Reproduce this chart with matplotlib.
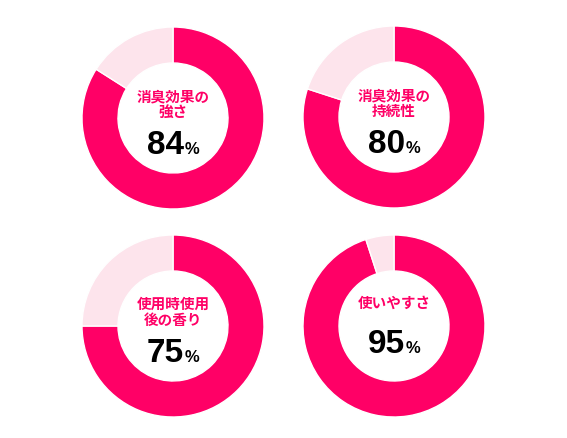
import matplotlib
matplotlib.use('Agg')
import matplotlib.pyplot as plt

labels = ['消臭効果の\n強さ', '消臭効果の\n持続性', '使用時使用\n後の香り', '使いやすさ']
values = [84, 80, 75, 95]

W, H = 567, 439
centers = [(173, 119), (394, 118), (173, 327), (394, 327)]
pink = '#ff0066'
light = '#fde4ec'

fig = plt.figure(figsize=(W / 100, H / 100), dpi=100)
ax = fig.add_axes([0, 0, 1, 1])
ax.set_xlim(0, W)
ax.set_ylim(0, H)
ax.set_aspect('equal')
ax.axis('off')

jp = ['Noto Sans CJK JP', 'DejaVu Sans']
for (cx, cy), lab, v in zip(centers, labels, values):
    y = H - cy
    ax.pie([v, 100 - v], colors=[pink, light], startangle=90, counterclock=False,
           center=(cx, y), radius=91, frame=True,
           wedgeprops=dict(width=36, edgecolor='white', linewidth=1))
    lines = lab.split('\n')
    if len(lines) == 2:
        ax.text(cx, y + 23, lines[0], ha='center', va='center', color=pink,
                fontsize=10.5, fontweight='bold', family=jp)
        ax.text(cx, y + 7.5, lines[1], ha='center', va='center', color=pink,
                fontsize=10.5, fontweight='bold', family=jp)
        ny = y - 35
    else:
        ax.text(cx, y + 24, lines[0], ha='center', va='center', color=pink,
                fontsize=10.5, fontweight='bold', family=jp)
        ny = y - 26
    ax.text(cx + 11, ny, str(v), ha='right', va='baseline', color='black',
            fontsize=24, fontweight='bold', family='Liberation Sans')
    ax.text(cx + 12, ny, '%', ha='left', va='baseline', color='black',
            fontsize=12, fontweight='bold', family='Liberation Sans')

ax.set_xlim(0, W)
ax.set_ylim(0, H)
ax.axis('off')
fig.savefig('out.png', dpi=100, facecolor='white')
